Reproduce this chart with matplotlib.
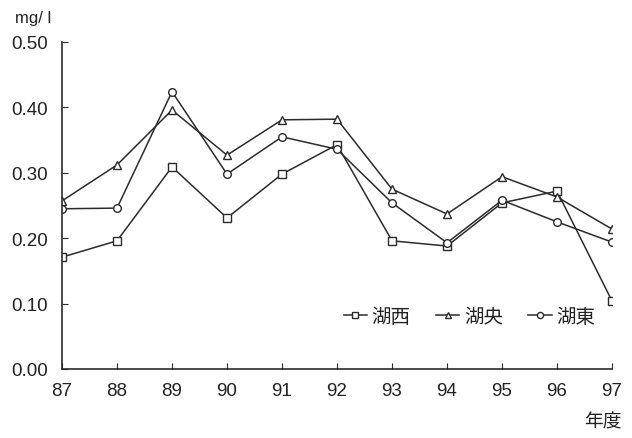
import matplotlib
matplotlib.use('Agg')
import matplotlib.pyplot as plt

plt.rcParams['font.family'] = ['Liberation Sans', 'Noto Sans CJK JP']

# 年度ごとの濃度 (mg/l)
years = [87, 88, 89, 90, 91, 92, 93, 94, 95, 96, 97]
kosai = [0.171, 0.196, 0.309, 0.231, 0.298, 0.343, 0.196, 0.188, 0.254, 0.272, 0.104]
kouou = [0.257, 0.312, 0.396, 0.327, 0.381, 0.382, 0.275, 0.237, 0.294, 0.263, 0.214]
koutou = [0.245, 0.246, 0.424, 0.298, 0.355, 0.336, 0.254, 0.193, 0.258, 0.225, 0.194]
names = ['湖西', '湖央', '湖東']

fig = plt.figure(figsize=(6.32, 4.39), dpi=100)
ax = fig.add_axes([62/632, 1-370/439, 550/632, 327/439])

c = '#2b2b2b'
kw = dict(color=c, lw=1.1, markerfacecolor='white', markeredgecolor=c, markersize=5.5, markeredgewidth=1.0)
ax.plot(years, kosai, marker='s', label=names[0], **kw)
ax.plot(years, kouou, marker='^', label=names[1], **kw)
ax.plot(years, koutou, marker='o', label=names[2], **kw)

ax.set_xlim(87, 97)
ax.set_ylim(0, 0.5)
ax.set_xticks(years)
ax.set_yticks([0, 0.1, 0.2, 0.3, 0.4, 0.5])
ax.set_yticklabels(['0.00', '0.10', '0.20', '0.30', '0.40', '0.50'])
ax.spines['top'].set_visible(False)
ax.spines['right'].set_visible(False)
for s in ['left', 'bottom']:
    ax.spines[s].set_color(c)
    ax.spines[s].set_linewidth(1.2)
ax.tick_params(direction='in', length=4, color=c, labelsize=13.5, labelcolor='#222222')
ax.tick_params(axis='x', pad=9)
ax.tick_params(axis='y', pad=10)

fig.text(15/632, 1-18/439, 'mg/ l', fontsize=12, color='#222222', va='center')
fig.text(622/632, 1-423/439, '年度', fontsize=13.5, color='#222222', ha='right', va='center')

leg = ax.legend(ncol=3, frameon=False, loc='center left', bbox_to_anchor=(0.48, 0.16),
                handlelength=1.2, handletextpad=0.25, columnspacing=1.3, fontsize=14,
                markerscale=0.8)
for t in leg.get_texts():
    t.set_color('#222222')

fig.savefig('out.png', dpi=100, facecolor='white')
